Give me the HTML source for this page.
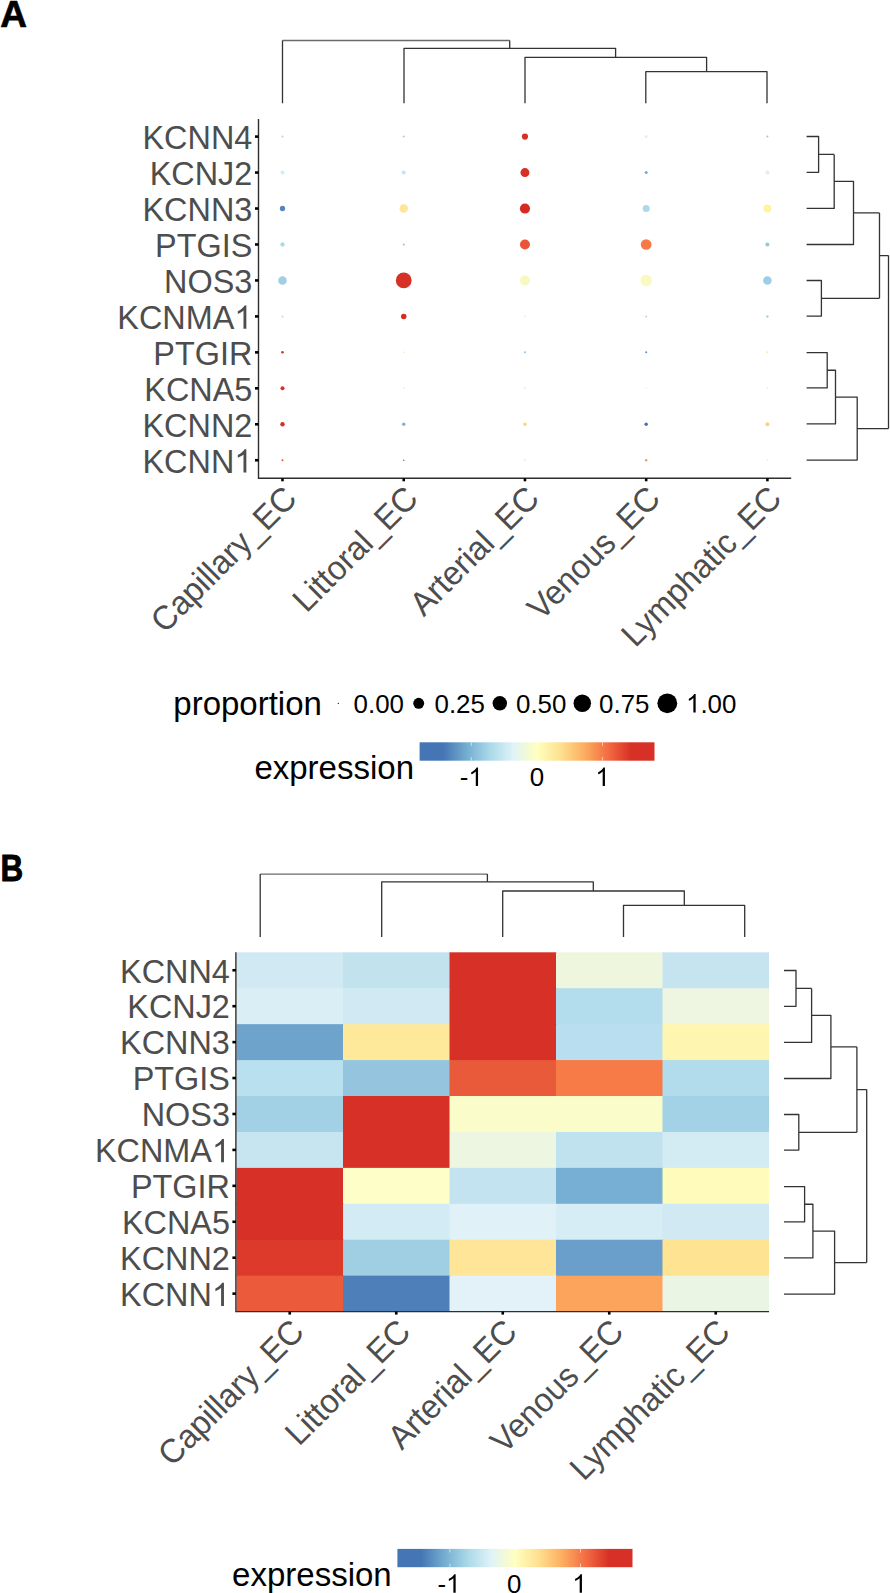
<!DOCTYPE html>
<html><head><meta charset="utf-8"><style>
html,body{margin:0;padding:0;background:#fff;width:890px;height:1593px;overflow:hidden}
svg{display:block}
text{font-family:"Liberation Sans",sans-serif}
.ax{font-size:32.4px;fill:#4d4d4d}
.lt{font-size:33px;fill:#000}
.lg{font-size:25.9px;fill:#000}
.pl{font-size:37px;font-weight:bold;fill:#000}
</style></head><body>
<svg width="890" height="1593" viewBox="0 0 890 1593">
<defs>
<linearGradient id="cbA" x1="0" x2="1" y1="0" y2="0"><stop offset="0.10" stop-color="#4575b4"/><stop offset="0.20" stop-color="#74add1"/><stop offset="0.30" stop-color="#abd9e9"/><stop offset="0.40" stop-color="#e0f3f8"/><stop offset="0.50" stop-color="#ffffbf"/><stop offset="0.60" stop-color="#fee090"/><stop offset="0.70" stop-color="#fdae61"/><stop offset="0.80" stop-color="#f46d43"/><stop offset="0.90" stop-color="#d73027"/></linearGradient>
<linearGradient id="cbB" x1="0" x2="1" y1="0" y2="0"><stop offset="0.10" stop-color="#4575b4"/><stop offset="0.20" stop-color="#74add1"/><stop offset="0.30" stop-color="#abd9e9"/><stop offset="0.40" stop-color="#e0f3f8"/><stop offset="0.50" stop-color="#ffffbf"/><stop offset="0.60" stop-color="#fee090"/><stop offset="0.70" stop-color="#fdae61"/><stop offset="0.80" stop-color="#f46d43"/><stop offset="0.90" stop-color="#d73027"/></linearGradient>
</defs>
<rect width="890" height="1593" fill="#fff"/>
<text x="0.3" y="26.6" class="pl" stroke="#000" stroke-width="0.7">A</text>
<path d="M282.50,40.50H509.70" fill="none" stroke="#6a6a6a" stroke-width="1.3"/>
<path d="M282.50,103.30V40.50 M509.70,40.50V48.30 M404.00,103.30V48.30H615.60V57.40 M525.00,103.30V57.40H706.60V71.70 M645.80,103.30V71.70H767.00V103.30" fill="none" stroke="#333333" stroke-width="1.3" stroke-linejoin="round" stroke-linecap="butt"/>
<path d="M806.60,136.50H818.60V172.30H806.60 M818.60,154.40H834.20 M834.20,154.40V208.40H806.60 M834.20,181.40H853.50V244.50H806.60 M853.50,212.95H879.50 M806.60,280.50H821.40V316.10H806.60 M821.40,298.30H879.50 M879.50,212.95V298.30 M879.50,255.62H888.50 M806.60,352.60H827.20V387.90H806.60 M827.20,370.25H835.50V423.90H806.60 M835.50,397.07H857.20V460.10H806.60 M857.20,428.59H888.50 M888.50,255.62V428.59" fill="none" stroke="#333333" stroke-width="1.3" stroke-linejoin="round" stroke-linecap="butt"/>
<circle cx="282.50" cy="136.60" r="1.00" fill="#abd9e9"/>
<circle cx="403.73" cy="136.60" r="1.00" fill="#9ecae1"/>
<circle cx="524.95" cy="136.60" r="3.10" fill="#d73027"/>
<circle cx="646.17" cy="136.60" r="1.50" fill="#e6f3d3"/>
<circle cx="767.40" cy="136.60" r="1.00" fill="#92c5de"/>
<circle cx="282.50" cy="172.56" r="2.00" fill="#d0ebf3"/>
<circle cx="403.73" cy="172.56" r="2.00" fill="#c6e4ef"/>
<circle cx="524.95" cy="172.56" r="4.50" fill="#d73027"/>
<circle cx="646.17" cy="172.56" r="1.50" fill="#74add1"/>
<circle cx="767.40" cy="172.56" r="2.00" fill="#e3f1d5"/>
<circle cx="282.50" cy="208.52" r="2.65" fill="#5386c2"/>
<circle cx="403.73" cy="208.52" r="4.25" fill="#fee59a"/>
<circle cx="524.95" cy="208.52" r="5.10" fill="#d62a24"/>
<circle cx="646.17" cy="208.52" r="3.50" fill="#abd9e9"/>
<circle cx="767.40" cy="208.52" r="4.00" fill="#fef4a0"/>
<circle cx="282.50" cy="244.48" r="2.15" fill="#add8e6"/>
<circle cx="403.73" cy="244.48" r="1.00" fill="#92c0dc"/>
<circle cx="524.95" cy="244.48" r="5.00" fill="#e8553a"/>
<circle cx="646.17" cy="244.48" r="5.35" fill="#f67a45"/>
<circle cx="767.40" cy="244.48" r="2.00" fill="#92c8df"/>
<circle cx="282.50" cy="280.44" r="4.25" fill="#a0cfe4"/>
<circle cx="403.73" cy="280.44" r="7.90" fill="#d73027"/>
<circle cx="524.95" cy="280.44" r="5.00" fill="#f7f9c0"/>
<circle cx="646.17" cy="280.44" r="5.75" fill="#f8fbbd"/>
<circle cx="767.40" cy="280.44" r="4.25" fill="#9ccfe5"/>
<circle cx="282.50" cy="316.40" r="1.00" fill="#b8dcea"/>
<circle cx="403.73" cy="316.40" r="2.75" fill="#d42a20"/>
<circle cx="524.95" cy="316.40" r="1.00" fill="#e5f2d0"/>
<circle cx="646.17" cy="316.40" r="1.00" fill="#b0d8e8"/>
<circle cx="767.40" cy="316.40" r="1.25" fill="#a7d3e8"/>
<circle cx="282.50" cy="352.36" r="1.25" fill="#d73027"/>
<circle cx="403.73" cy="352.36" r="0.75" fill="#fde878"/>
<circle cx="524.95" cy="352.36" r="1.00" fill="#8ebfdc"/>
<circle cx="646.17" cy="352.36" r="1.00" fill="#5b8cc3"/>
<circle cx="767.40" cy="352.36" r="1.00" fill="#fde89a"/>
<circle cx="282.50" cy="388.32" r="2.00" fill="#d73027"/>
<circle cx="403.73" cy="388.32" r="0.75" fill="#d0e8f0"/>
<circle cx="524.95" cy="388.32" r="1.00" fill="#dbeef4"/>
<circle cx="646.17" cy="388.32" r="0.75" fill="#d8eef4"/>
<circle cx="767.40" cy="388.32" r="0.75" fill="#d8e8f4"/>
<circle cx="282.50" cy="424.28" r="2.20" fill="#d73027"/>
<circle cx="403.73" cy="424.28" r="1.75" fill="#7fb6d6"/>
<circle cx="524.95" cy="424.28" r="1.75" fill="#fed67a"/>
<circle cx="646.17" cy="424.28" r="1.75" fill="#4575b4"/>
<circle cx="767.40" cy="424.28" r="2.00" fill="#fdd176"/>
<circle cx="282.50" cy="460.24" r="1.00" fill="#f04e30"/>
<circle cx="403.73" cy="460.24" r="0.75" fill="#4575b4"/>
<circle cx="524.95" cy="460.24" r="1.00" fill="#dbeef4"/>
<circle cx="646.17" cy="460.24" r="1.25" fill="#f99a55"/>
<circle cx="767.40" cy="460.24" r="0.75" fill="#dfeed0"/>
<path d="M258.5,119V478.3H791.2" fill="none" stroke="#2e2e2e" stroke-width="1.4"/>
<line x1="255.00" y1="136.60" x2="258.50" y2="136.60" stroke="#000" stroke-width="2.6"/>
<line x1="255.00" y1="172.56" x2="258.50" y2="172.56" stroke="#000" stroke-width="2.6"/>
<line x1="255.00" y1="208.52" x2="258.50" y2="208.52" stroke="#000" stroke-width="2.6"/>
<line x1="255.00" y1="244.48" x2="258.50" y2="244.48" stroke="#000" stroke-width="2.6"/>
<line x1="255.00" y1="280.44" x2="258.50" y2="280.44" stroke="#000" stroke-width="2.6"/>
<line x1="255.00" y1="316.40" x2="258.50" y2="316.40" stroke="#000" stroke-width="2.6"/>
<line x1="255.00" y1="352.36" x2="258.50" y2="352.36" stroke="#000" stroke-width="2.6"/>
<line x1="255.00" y1="388.32" x2="258.50" y2="388.32" stroke="#000" stroke-width="2.6"/>
<line x1="255.00" y1="424.28" x2="258.50" y2="424.28" stroke="#000" stroke-width="2.6"/>
<line x1="255.00" y1="460.24" x2="258.50" y2="460.24" stroke="#000" stroke-width="2.6"/>
<line x1="282.50" y1="478.30" x2="282.50" y2="481.30" stroke="#000" stroke-width="2.6"/>
<line x1="403.73" y1="478.30" x2="403.73" y2="481.30" stroke="#000" stroke-width="2.6"/>
<line x1="524.95" y1="478.30" x2="524.95" y2="481.30" stroke="#000" stroke-width="2.6"/>
<line x1="646.17" y1="478.30" x2="646.17" y2="481.30" stroke="#000" stroke-width="2.6"/>
<line x1="767.40" y1="478.30" x2="767.40" y2="481.30" stroke="#000" stroke-width="2.6"/>
<text transform="translate(252.30,148.90) scale(1,1.04)" text-anchor="end" class="ax">KCNN4</text>
<text transform="translate(252.30,184.86) scale(1,1.04)" text-anchor="end" class="ax">KCNJ2</text>
<text transform="translate(252.30,220.82) scale(1,1.04)" text-anchor="end" class="ax">KCNN3</text>
<text transform="translate(252.30,256.78) scale(1,1.04)" text-anchor="end" class="ax">PTGIS</text>
<text transform="translate(252.30,292.74) scale(1,1.04)" text-anchor="end" class="ax">NOS3</text>
<text transform="translate(234.28,328.70) scale(1,1.04)" text-anchor="end" class="ax">KCNMA</text>
<path d="M246.35,328.70L243.50,328.70L243.50,310.55C242.82,311.20 241.92,311.87 240.81,312.52C239.71,313.16 238.71,313.65 237.81,313.99L237.81,311.23C239.41,310.49 240.80,309.59 241.99,308.53C243.17,307.47 244.01,306.46 244.50,305.51L246.35,305.51Z" fill="#4d4d4d"/>
<text transform="translate(252.30,364.66) scale(1,1.04)" text-anchor="end" class="ax">PTGIR</text>
<text transform="translate(252.30,400.62) scale(1,1.04)" text-anchor="end" class="ax">KCNA5</text>
<text transform="translate(252.30,436.58) scale(1,1.04)" text-anchor="end" class="ax">KCNN2</text>
<text transform="translate(234.28,472.54) scale(1,1.04)" text-anchor="end" class="ax">KCNN</text>
<path d="M246.35,472.54L243.50,472.54L243.50,454.39C242.82,455.04 241.92,455.71 240.81,456.36C239.71,457.00 238.71,457.49 237.81,457.83L237.81,455.07C239.41,454.33 240.80,453.43 241.99,452.37C243.17,451.31 244.01,450.30 244.50,449.35L246.35,449.35Z" fill="#4d4d4d"/>
<text transform="translate(282.00,484.00) rotate(-45) translate(0,23.33) scale(1,1.04)" text-anchor="end" class="ax">Capillary_EC</text>
<text transform="translate(403.23,484.00) rotate(-45) translate(0,23.33) scale(1,1.04)" text-anchor="end" class="ax">Littoral_EC</text>
<text transform="translate(524.45,484.00) rotate(-45) translate(0,23.33) scale(1,1.04)" text-anchor="end" class="ax">Arterial_EC</text>
<text transform="translate(645.67,484.00) rotate(-45) translate(0,23.33) scale(1,1.04)" text-anchor="end" class="ax">Venous_EC</text>
<text transform="translate(766.90,484.00) rotate(-45) translate(0,23.33) scale(1,1.04)" text-anchor="end" class="ax">Lymphatic_EC</text>
<text transform="translate(173.3,715.2)" class="lt">proportion</text>
<circle cx="338.3" cy="703.3" r="0.65" fill="#000"/>
<circle cx="418.7" cy="703.3" r="5.45" fill="#000"/>
<circle cx="499.8" cy="703.3" r="7.2" fill="#000"/>
<circle cx="582.3" cy="703.3" r="8.75" fill="#000"/>
<circle cx="667.3" cy="703.3" r="9.9" fill="#000"/>
<text transform="translate(353.6,712.6)" class="lg">0.00</text>
<text transform="translate(434.5,712.6)" class="lg">0.25</text>
<text transform="translate(516,712.6)" class="lg">0.50</text>
<text transform="translate(599.1,712.6)" class="lg">0.75</text>
<path d="M695.65,712.60L693.37,712.60L693.37,698.09C692.83,698.61 692.11,699.14 691.22,699.66C690.34,700.18 689.54,700.57 688.82,700.84L688.82,698.64C690.10,698.04 691.21,697.32 692.16,696.48C693.11,695.63 693.78,694.82 694.17,694.06L695.65,694.06Z" fill="#000"/>
<text transform="translate(700.40,712.6)" class="lg">.00</text>
<text transform="translate(254.4,779.2)" class="lt">expression</text>
<rect x="419.60" y="742.30" width="234.90" height="18.40" fill="url(#cbA)"/>
<line x1="471.30" y1="742.30" x2="471.30" y2="745.90" stroke="#fff" stroke-width="1" opacity="0.6"/>
<line x1="471.30" y1="757.10" x2="471.30" y2="760.70" stroke="#fff" stroke-width="1" opacity="0.6"/>
<line x1="537.00" y1="742.30" x2="537.00" y2="745.90" stroke="#fff" stroke-width="1" opacity="0.6"/>
<line x1="537.00" y1="757.10" x2="537.00" y2="760.70" stroke="#fff" stroke-width="1" opacity="0.6"/>
<line x1="602.50" y1="742.30" x2="602.50" y2="745.90" stroke="#fff" stroke-width="1" opacity="0.6"/>
<line x1="602.50" y1="757.10" x2="602.50" y2="760.70" stroke="#fff" stroke-width="1" opacity="0.6"/>
<text transform="translate(459.79,786.10)" class="lg">-</text>
<path d="M478.06,786.10L475.78,786.10L475.78,771.59C475.24,772.11 474.52,772.64 473.63,773.16C472.75,773.68 471.95,774.07 471.23,774.34L471.23,772.14C472.51,771.54 473.62,770.82 474.57,769.98C475.52,769.13 476.19,768.32 476.58,767.56L478.06,767.56Z" fill="#000"/>
<text transform="translate(537.00,786.10)" text-anchor="middle" class="lg">0</text>
<path d="M604.95,786.10L602.67,786.10L602.67,771.59C602.13,772.11 601.41,772.64 600.52,773.16C599.64,773.68 598.84,774.07 598.12,774.34L598.12,772.14C599.40,771.54 600.51,770.82 601.46,769.98C602.41,769.13 603.08,768.32 603.47,767.56L604.95,767.56Z" fill="#000"/>
<text transform="translate(0.5,880.5) scale(0.85,1)" class="pl" stroke="#000" stroke-width="0.9">B</text>
<path d="M260.20,874.10H487.40" fill="none" stroke="#6a6a6a" stroke-width="1.3"/>
<path d="M260.20,936.90V874.10 M487.40,874.10V881.90 M381.70,936.90V881.90H593.30V891.00 M502.70,936.90V891.00H684.30V905.30 M623.50,936.90V905.30H744.70V936.90" fill="none" stroke="#333333" stroke-width="1.3" stroke-linejoin="round" stroke-linecap="butt"/>
<path d="M784.00,970.50H796.00V1006.30H784.00 M796.00,988.40H811.60 M811.60,988.40V1042.40H784.00 M811.60,1015.40H830.90V1078.50H784.00 M830.90,1046.95H856.90 M784.00,1114.50H798.80V1150.10H784.00 M798.80,1132.30H856.90 M856.90,1046.95V1132.30 M856.90,1089.62H866.70 M784.00,1186.60H804.60V1221.90H784.00 M804.60,1204.25H812.90V1257.90H784.00 M812.90,1231.08H834.60V1294.10H784.00 M834.60,1262.59H866.70 M866.70,1089.62V1262.59" fill="none" stroke="#333333" stroke-width="1.3" stroke-linejoin="round" stroke-linecap="butt"/>
<rect x="236.50" y="952.30" width="107.50" height="36.93" fill="#d1e9f2"/>
<rect x="343.00" y="952.30" width="107.50" height="36.93" fill="#c2e3ee"/>
<rect x="449.50" y="952.30" width="107.50" height="36.93" fill="#d73027"/>
<rect x="556.00" y="952.30" width="107.50" height="36.93" fill="#eef6de"/>
<rect x="662.50" y="952.30" width="106.50" height="36.93" fill="#c6e4ef"/>
<rect x="236.50" y="988.23" width="107.50" height="36.93" fill="#d9eff5"/>
<rect x="343.00" y="988.23" width="107.50" height="36.93" fill="#d0e9f2"/>
<rect x="449.50" y="988.23" width="107.50" height="36.93" fill="#d73027"/>
<rect x="556.00" y="988.23" width="107.50" height="36.93" fill="#b3dcec"/>
<rect x="662.50" y="988.23" width="106.50" height="36.93" fill="#eef6e2"/>
<rect x="236.50" y="1024.16" width="107.50" height="36.93" fill="#6ea3cc"/>
<rect x="343.00" y="1024.16" width="107.50" height="36.93" fill="#fee89a"/>
<rect x="449.50" y="1024.16" width="107.50" height="36.93" fill="#d73027"/>
<rect x="556.00" y="1024.16" width="107.50" height="36.93" fill="#b8def0"/>
<rect x="662.50" y="1024.16" width="106.50" height="36.93" fill="#fef6b0"/>
<rect x="236.50" y="1060.09" width="107.50" height="36.93" fill="#b9e0ef"/>
<rect x="343.00" y="1060.09" width="107.50" height="36.93" fill="#94c4de"/>
<rect x="449.50" y="1060.09" width="107.50" height="36.93" fill="#e95a3b"/>
<rect x="556.00" y="1060.09" width="107.50" height="36.93" fill="#f67b46"/>
<rect x="662.50" y="1060.09" width="106.50" height="36.93" fill="#b2dbeb"/>
<rect x="236.50" y="1096.02" width="107.50" height="36.93" fill="#a2d0e5"/>
<rect x="343.00" y="1096.02" width="107.50" height="36.93" fill="#d73027"/>
<rect x="449.50" y="1096.02" width="107.50" height="36.93" fill="#fafcca"/>
<rect x="556.00" y="1096.02" width="107.50" height="36.93" fill="#fafcca"/>
<rect x="662.50" y="1096.02" width="106.50" height="36.93" fill="#a3d1e6"/>
<rect x="236.50" y="1131.95" width="107.50" height="36.93" fill="#c6e5f0"/>
<rect x="343.00" y="1131.95" width="107.50" height="36.93" fill="#d73027"/>
<rect x="449.50" y="1131.95" width="107.50" height="36.93" fill="#edf6e0"/>
<rect x="556.00" y="1131.95" width="107.50" height="36.93" fill="#c0e2ef"/>
<rect x="662.50" y="1131.95" width="106.50" height="36.93" fill="#d3ebf3"/>
<rect x="236.50" y="1167.88" width="107.50" height="36.93" fill="#d73027"/>
<rect x="343.00" y="1167.88" width="107.50" height="36.93" fill="#fefec8"/>
<rect x="449.50" y="1167.88" width="107.50" height="36.93" fill="#c2e3ef"/>
<rect x="556.00" y="1167.88" width="107.50" height="36.93" fill="#77aed3"/>
<rect x="662.50" y="1167.88" width="106.50" height="36.93" fill="#fefbbb"/>
<rect x="236.50" y="1203.81" width="107.50" height="36.93" fill="#d73027"/>
<rect x="343.00" y="1203.81" width="107.50" height="36.93" fill="#d3ebf4"/>
<rect x="449.50" y="1203.81" width="107.50" height="36.93" fill="#e0f2f8"/>
<rect x="556.00" y="1203.81" width="107.50" height="36.93" fill="#d6edf5"/>
<rect x="662.50" y="1203.81" width="106.50" height="36.93" fill="#d0e9f2"/>
<rect x="236.50" y="1239.74" width="107.50" height="36.93" fill="#dd3a2b"/>
<rect x="343.00" y="1239.74" width="107.50" height="36.93" fill="#a0cee3"/>
<rect x="449.50" y="1239.74" width="107.50" height="36.93" fill="#fee597"/>
<rect x="556.00" y="1239.74" width="107.50" height="36.93" fill="#6b9fcb"/>
<rect x="662.50" y="1239.74" width="106.50" height="36.93" fill="#fee393"/>
<rect x="236.50" y="1275.67" width="107.50" height="35.93" fill="#ec5a3c"/>
<rect x="343.00" y="1275.67" width="107.50" height="35.93" fill="#4e7fb9"/>
<rect x="449.50" y="1275.67" width="107.50" height="35.93" fill="#e3f2f8"/>
<rect x="556.00" y="1275.67" width="107.50" height="35.93" fill="#fca35c"/>
<rect x="662.50" y="1275.67" width="106.50" height="35.93" fill="#ebf5e3"/>
<path d="M235.9,952.3V1311.6H769" fill="none" stroke="#2e2e2e" stroke-width="1.4"/>
<line x1="232.40" y1="970.26" x2="235.90" y2="970.26" stroke="#000" stroke-width="2.6"/>
<line x1="232.40" y1="1006.19" x2="235.90" y2="1006.19" stroke="#000" stroke-width="2.6"/>
<line x1="232.40" y1="1042.12" x2="235.90" y2="1042.12" stroke="#000" stroke-width="2.6"/>
<line x1="232.40" y1="1078.05" x2="235.90" y2="1078.05" stroke="#000" stroke-width="2.6"/>
<line x1="232.40" y1="1113.98" x2="235.90" y2="1113.98" stroke="#000" stroke-width="2.6"/>
<line x1="232.40" y1="1149.91" x2="235.90" y2="1149.91" stroke="#000" stroke-width="2.6"/>
<line x1="232.40" y1="1185.85" x2="235.90" y2="1185.85" stroke="#000" stroke-width="2.6"/>
<line x1="232.40" y1="1221.78" x2="235.90" y2="1221.78" stroke="#000" stroke-width="2.6"/>
<line x1="232.40" y1="1257.70" x2="235.90" y2="1257.70" stroke="#000" stroke-width="2.6"/>
<line x1="232.40" y1="1293.63" x2="235.90" y2="1293.63" stroke="#000" stroke-width="2.6"/>
<line x1="289.75" y1="1311.60" x2="289.75" y2="1314.60" stroke="#000" stroke-width="2.6"/>
<line x1="396.25" y1="1311.60" x2="396.25" y2="1314.60" stroke="#000" stroke-width="2.6"/>
<line x1="502.75" y1="1311.60" x2="502.75" y2="1314.60" stroke="#000" stroke-width="2.6"/>
<line x1="609.25" y1="1311.60" x2="609.25" y2="1314.60" stroke="#000" stroke-width="2.6"/>
<line x1="715.75" y1="1311.60" x2="715.75" y2="1314.60" stroke="#000" stroke-width="2.6"/>
<text transform="translate(229.90,982.56) scale(1,1.04)" text-anchor="end" class="ax">KCNN4</text>
<text transform="translate(229.90,1018.49) scale(1,1.04)" text-anchor="end" class="ax">KCNJ2</text>
<text transform="translate(229.90,1054.42) scale(1,1.04)" text-anchor="end" class="ax">KCNN3</text>
<text transform="translate(229.90,1090.36) scale(1,1.04)" text-anchor="end" class="ax">PTGIS</text>
<text transform="translate(229.90,1126.28) scale(1,1.04)" text-anchor="end" class="ax">NOS3</text>
<text transform="translate(211.88,1162.21) scale(1,1.04)" text-anchor="end" class="ax">KCNMA</text>
<path d="M223.95,1162.21L221.10,1162.21L221.10,1144.07C220.42,1144.72 219.52,1145.38 218.41,1146.03C217.31,1146.68 216.31,1147.17 215.41,1147.50L215.41,1144.75C217.01,1144.01 218.40,1143.10 219.59,1142.04C220.77,1140.98 221.61,1139.97 222.10,1139.02L223.95,1139.02Z" fill="#4d4d4d"/>
<text transform="translate(229.90,1198.14) scale(1,1.04)" text-anchor="end" class="ax">PTGIR</text>
<text transform="translate(229.90,1234.08) scale(1,1.04)" text-anchor="end" class="ax">KCNA5</text>
<text transform="translate(229.90,1270.00) scale(1,1.04)" text-anchor="end" class="ax">KCNN2</text>
<text transform="translate(211.88,1305.93) scale(1,1.04)" text-anchor="end" class="ax">KCNN</text>
<path d="M223.95,1305.93L221.10,1305.93L221.10,1287.79C220.42,1288.44 219.52,1289.10 218.41,1289.75C217.31,1290.40 216.31,1290.89 215.41,1291.22L215.41,1288.47C217.01,1287.73 218.40,1286.82 219.59,1285.76C220.77,1284.70 221.61,1283.69 222.10,1282.74L223.95,1282.74Z" fill="#4d4d4d"/>
<text transform="translate(289.25,1317.30) rotate(-45) translate(0,23.33) scale(1,1.04)" text-anchor="end" class="ax">Capillary_EC</text>
<text transform="translate(395.75,1317.30) rotate(-45) translate(0,23.33) scale(1,1.04)" text-anchor="end" class="ax">Littoral_EC</text>
<text transform="translate(502.25,1317.30) rotate(-45) translate(0,23.33) scale(1,1.04)" text-anchor="end" class="ax">Arterial_EC</text>
<text transform="translate(608.75,1317.30) rotate(-45) translate(0,23.33) scale(1,1.04)" text-anchor="end" class="ax">Venous_EC</text>
<text transform="translate(715.25,1317.30) rotate(-45) translate(0,23.33) scale(1,1.04)" text-anchor="end" class="ax">Lymphatic_EC</text>
<text transform="translate(232.1,1585.7)" class="lt">expression</text>
<rect x="397.40" y="1548.90" width="235.10" height="18.30" fill="url(#cbB)"/>
<line x1="449.90" y1="1548.90" x2="449.90" y2="1552.50" stroke="#fff" stroke-width="1" opacity="0.6"/>
<line x1="449.90" y1="1563.60" x2="449.90" y2="1567.20" stroke="#fff" stroke-width="1" opacity="0.6"/>
<line x1="515.20" y1="1548.90" x2="515.20" y2="1552.50" stroke="#fff" stroke-width="1" opacity="0.6"/>
<line x1="515.20" y1="1563.60" x2="515.20" y2="1567.20" stroke="#fff" stroke-width="1" opacity="0.6"/>
<line x1="580.50" y1="1548.90" x2="580.50" y2="1552.50" stroke="#fff" stroke-width="1" opacity="0.6"/>
<line x1="580.50" y1="1563.60" x2="580.50" y2="1567.20" stroke="#fff" stroke-width="1" opacity="0.6"/>
<text transform="translate(437.39,1592.80)" class="lg">-</text>
<path d="M455.66,1592.80L453.38,1592.80L453.38,1578.29C452.84,1578.81 452.12,1579.34 451.23,1579.86C450.35,1580.38 449.55,1580.77 448.83,1581.04L448.83,1578.84C450.11,1578.24 451.22,1577.52 452.17,1576.68C453.12,1575.83 453.79,1575.02 454.18,1574.26L455.66,1574.26Z" fill="#000"/>
<text transform="translate(514.20,1592.80)" text-anchor="middle" class="lg">0</text>
<path d="M581.95,1592.80L579.67,1592.80L579.67,1578.29C579.13,1578.81 578.41,1579.34 577.52,1579.86C576.64,1580.38 575.84,1580.77 575.12,1581.04L575.12,1578.84C576.40,1578.24 577.51,1577.52 578.46,1576.68C579.41,1575.83 580.08,1575.02 580.47,1574.26L581.95,1574.26Z" fill="#000"/>
</svg>
</body></html>
